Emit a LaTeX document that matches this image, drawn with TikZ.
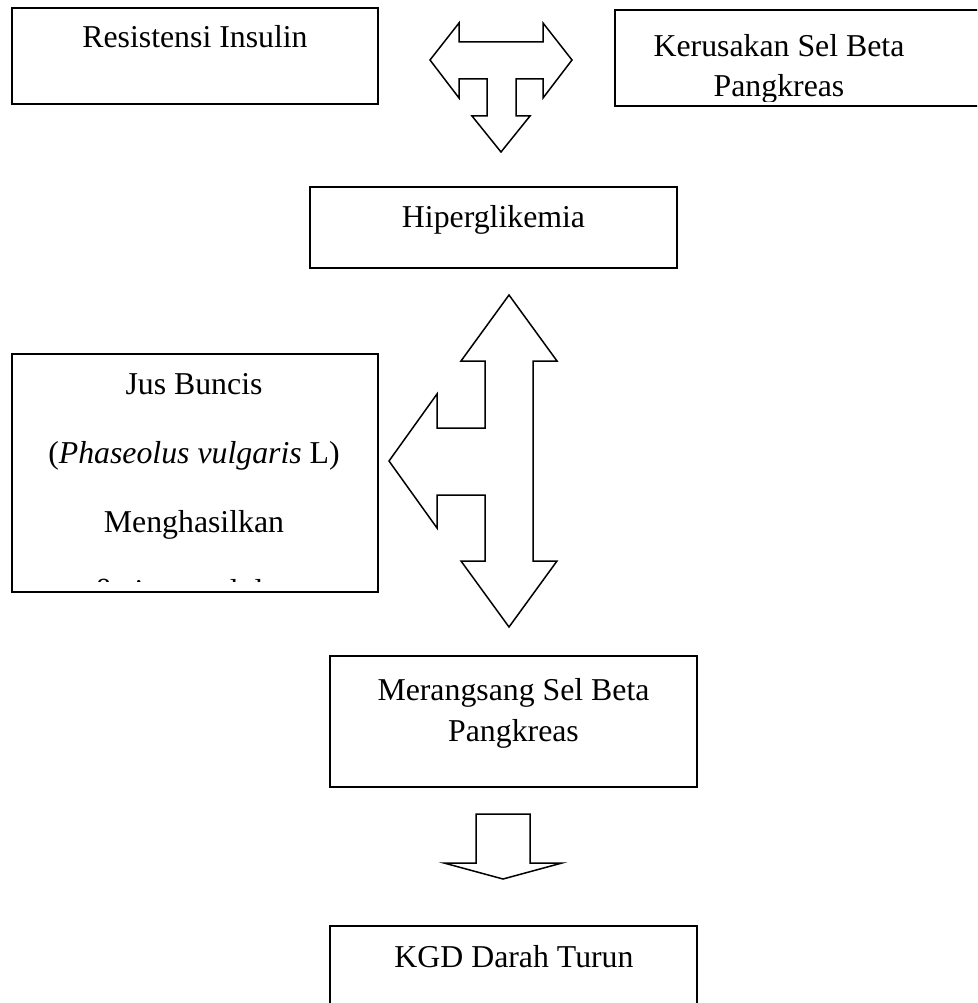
\documentclass[tikz,border=0pt]{standalone}
\usepackage{fontspec}
\setmainfont{Liberation Serif}
\usetikzlibrary{positioning}

\begin{document}
\begin{tikzpicture}[
    x=1pt, y=-1pt,
    box/.style={draw, line width=2.2pt, inner sep=0pt, minimum width=#1},
    box/.default=366pt,
    words/.style={anchor=base, inner sep=0pt, font=\fontsize{31.8}{40}\selectfont},
    blockarrow/.style={draw, line width=1.5pt, line join=miter},
]
\clip (0,0) rectangle (977,1003);

% boxes
\node[box, minimum height=96pt] (res) at (195,56) {};
\node[box=400pt, minimum height=96pt] (krs) at (815,58) {};
\node[box=367pt, minimum height=81pt] (hip) at (493.5,227.5) {};
\node[box, minimum height=238pt] (jus) at (195,473) {};
\node[box=367pt, minimum height=131pt] (mer) at (513.5,721.5) {};
\node[box=367pt, minimum height=104pt] (kgd) at (513.5,978) {};

% texts
\node[words] (resT) at (195,48) {Resistensi Insulin};
\begin{scope}
  \clip (615,10) rectangle (977,102);
  \node[words] (krsT1) at (779,57) {Kerusakan Sel Beta};
  \node[words] (krsT2) at (779,97) {Pangkreas};
\end{scope}
\node[words] (hipT) at (493.5,227) {Hiperglikemia};
\begin{scope}
  \clip (12,354) rectangle (378,581.5);
  \foreach \t [count=\i] in {Jus Buncis, (\textit{Phaseolus vulgaris} L), Menghasilkan, β-sitosterol dan}
    \node[words] (jus\i) at (194,{394+69*(\i-1)}) {\t};
\end{scope}
\node[words] (merT1) at (513.5,700) {Merangsang Sel Beta};
\node[words] (merT2) at (513.5,741) {Pangkreas};
\node[words] (kgdT) at (514,967) {KGD Darah Turun};

% block arrows
\draw[blockarrow] (430,60) -- (459,23) -- (459,42) -- (543,42) -- (543,23) -- (572,60)
    -- (543,98) -- (543,79) -- (516,79) -- (516,116) -- (530,116) -- (501,152)
    -- (472,116) -- (487,116) -- (487,79) -- (459,79) -- (459,98) -- cycle;
\draw[blockarrow] (509,295) -- (557,361) -- (533,361) -- (533,561) -- (557,561) -- (509,627)
    -- (461,561) -- (485,561) -- (485,495) -- (437,495) -- (437,528) -- (389,461)
    -- (437,394) -- (437,428) -- (485,428) -- (485,361) -- (461,361) -- cycle;
\draw[blockarrow] (476,814) -- (530,814) -- (530,863) -- (562,863) -- (503,879)
    -- (444,863) -- (476,863) -- cycle;
\end{tikzpicture}
\end{document}
